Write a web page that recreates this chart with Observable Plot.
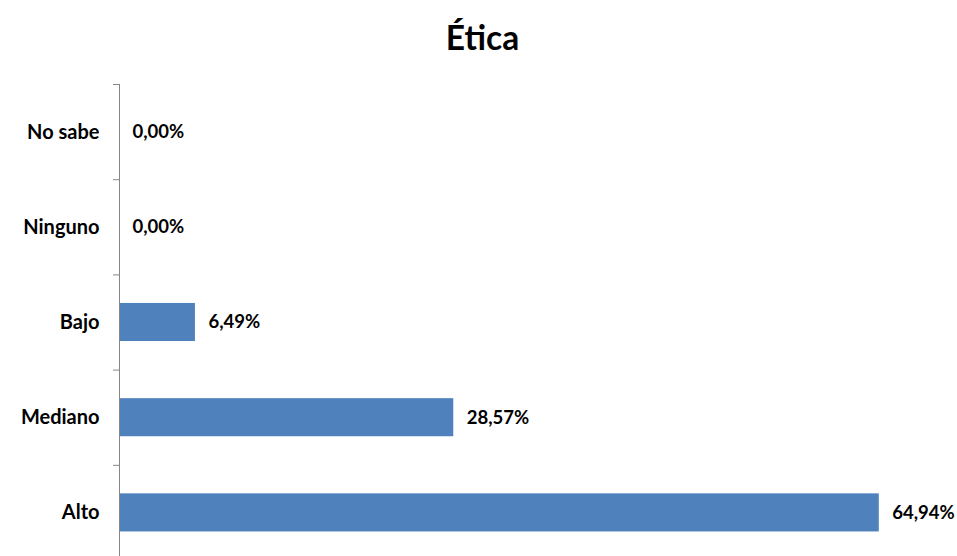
<!DOCTYPE html>
<html>
<head>
<meta charset="utf-8">
<script src="https://cdn.jsdelivr.net/npm/d3@7"></script>
<script src="https://cdn.jsdelivr.net/npm/@observablehq/plot@0.6"></script>
<style>
  html, body { margin: 0; padding: 0; background: #fff; overflow: hidden; }
  #title { height: 70px; line-height: 74px; text-align: center; padding-left: 8px; font-family: Lato, "Open Sans", sans-serif; font-weight: bold; font-size: 33.5px; color: #000; }
  #chart svg { display: block; }
</style>
</head>
<body>
<div id="title">Ética</div>
<div id="chart"></div>
<script>
const title = "Ética";
const categories = ["Alto", "Mediano", "Bajo", "Ninguno", "No sabe"];
const values = [64.94, 28.57, 6.49, 0, 0];
const valueLabels = ["64,94%", "28,57%", "6,49%", "0,00%", "0,00%"];

document.getElementById("title").textContent = title;

const data = categories.map((c, i) => ({cat: c, i, v: values[i], label: valueLabels[i]}));
const bounds = categories.map((_, i) => i - 0.5).concat([categories.length - 0.5]);

const chart = Plot.plot({
  width: 957,
  height: 490,
  marginLeft: 119,
  marginRight: 19,
  marginTop: 14,
  marginBottom: 0,
  style: {fontFamily: "Lato, 'Open Sans', sans-serif", color: "#000", background: "#fff"},
  x: {domain: [0, 70], axis: null},
  y: {domain: [-0.5, categories.length - 0.5], axis: null},
  marks: [
    Plot.rectX(data, {x1: 0, x2: "v", y1: d => d.i - 0.2, y2: d => d.i + 0.2, fill: "#4F81BD"}),
    Plot.text(data, {x: "v", y: "i", text: "label", textAnchor: "start", dx: 13, fontWeight: "bold", fontSize: 18.5, fill: "#000"}),
    Plot.axisY({ticks: bounds, tickFormat: () => "", tickSize: 6, stroke: "#868686", label: null}),
    Plot.axisY({ticks: categories.map((_, i) => i), tickSize: 0, tickPadding: 20, tickFormat: i => categories[i], fontWeight: "bold", fontSize: 20, fill: "#000", label: null}),
    Plot.ruleX([0], {stroke: "#868686"})
  ]
});
document.getElementById("chart").appendChild(chart);
</script>
</body>
</html>
